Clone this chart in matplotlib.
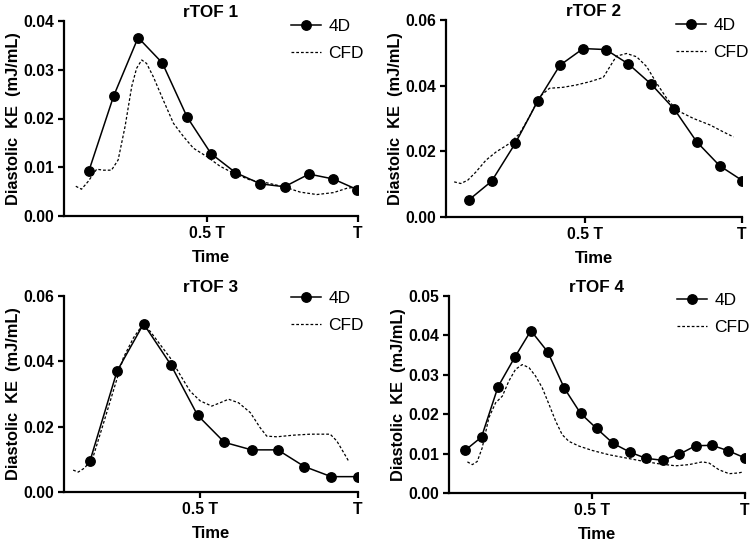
import matplotlib
matplotlib.use("Agg")
import matplotlib.pyplot as plt

plt.rcParams['font.family'] = ['Liberation Sans', 'DejaVu Sans']

# ---------------- data (time as fraction of cycle T) ----------------
titles = ["rTOF 1", "rTOF 2", "rTOF 3", "rTOF 4"]

t4d_1 = [0.110, 0.192, 0.273, 0.353, 0.435, 0.514, 0.595, 0.677, 0.757, 0.838, 0.918, 0.998]
ke4d_1 = [0.0092, 0.0246, 0.0366, 0.0314, 0.0203, 0.0128, 0.0089, 0.0066, 0.0060, 0.0086, 0.0076, 0.0054]
tcfd_1 = [0.067, 0.086, 0.108, 0.136, 0.158, 0.185, 0.207, 0.230, 0.252, 0.268, 0.285, 0.301,
          0.323, 0.356, 0.390, 0.423, 0.456, 0.500, 0.544, 0.588, 0.643, 0.699, 0.754, 0.809,
          0.864, 0.919, 0.964, 0.991]
kecfd_1 = [0.0061, 0.0055, 0.0071, 0.0096, 0.0094, 0.0094, 0.0115, 0.0184, 0.0266, 0.0303, 0.0320, 0.0313,
           0.0286, 0.0238, 0.0190, 0.0163, 0.0139, 0.0122, 0.0102, 0.0088, 0.0074, 0.0068, 0.0060, 0.0049,
           0.0044, 0.0048, 0.0057, 0.0059]

t4d_2 = [0.133, 0.204, 0.279, 0.350, 0.421, 0.495, 0.567, 0.639, 0.712, 0.785, 0.856, 0.929, 1.001]
ke4d_2 = [0.0053, 0.0109, 0.0224, 0.0352, 0.0462, 0.0513, 0.0510, 0.0466, 0.0404, 0.0328, 0.0229, 0.0156, 0.0111]
tcfd_2 = [0.085, 0.106, 0.128, 0.154, 0.186, 0.218, 0.261, 0.293, 0.324, 0.356, 0.388, 0.431,
          0.473, 0.516, 0.559, 0.580, 0.601, 0.633, 0.665, 0.697, 0.729, 0.761, 0.793, 0.846,
          0.899, 0.941, 0.973]
kecfd_2 = [0.0107, 0.0102, 0.0112, 0.0137, 0.0173, 0.0198, 0.0224, 0.0254, 0.0305, 0.0366, 0.0392, 0.0395,
           0.0402, 0.0412, 0.0425, 0.0458, 0.0490, 0.0498, 0.0488, 0.0458, 0.0407, 0.0361, 0.0325, 0.0300,
           0.0280, 0.0259, 0.0244]

t4d_3 = [0.151, 0.237, 0.321, 0.407, 0.492, 0.577, 0.663, 0.746, 0.830, 0.915, 0.999]
ke4d_3 = [0.0094, 0.0370, 0.0515, 0.0390, 0.0235, 0.0152, 0.0129, 0.0129, 0.0078, 0.0047, 0.0047]
tcfd_3 = [0.098, 0.114, 0.135, 0.162, 0.193, 0.225, 0.257, 0.289, 0.315, 0.341, 0.373, 0.405,
          0.436, 0.468, 0.500, 0.537, 0.563, 0.590, 0.622, 0.659, 0.690, 0.711, 0.743, 0.796,
          0.849, 0.912, 0.933, 0.955, 0.970]
kecfd_3 = [0.0067, 0.0061, 0.0074, 0.0110, 0.0207, 0.0309, 0.0411, 0.0472, 0.0508, 0.0493, 0.0452, 0.0411,
           0.0360, 0.0309, 0.0279, 0.0263, 0.0273, 0.0284, 0.0273, 0.0243, 0.0197, 0.0171, 0.0169, 0.0174,
           0.0177, 0.0177, 0.0156, 0.0120, 0.0095]

t4d_4 = [0.087, 0.141, 0.195, 0.249, 0.302, 0.357, 0.411, 0.464, 0.516, 0.570, 0.624, 0.677,
         0.732, 0.785, 0.839, 0.893, 0.946, 1.000]
ke4d_4 = [0.0108, 0.0142, 0.0270, 0.0344, 0.0412, 0.0358, 0.0266, 0.0202, 0.0164, 0.0126, 0.0104, 0.0088,
          0.0083, 0.0098, 0.0120, 0.0121, 0.0107, 0.0089]
tcfd_4 = [0.095, 0.111, 0.127, 0.143, 0.165, 0.187, 0.209, 0.230, 0.252, 0.274, 0.296, 0.317,
          0.339, 0.361, 0.383, 0.404, 0.426, 0.459, 0.502, 0.557, 0.611, 0.665, 0.720, 0.774,
          0.817, 0.861, 0.883, 0.915, 0.948, 0.980, 0.991]
kecfd_4 = [0.0079, 0.0072, 0.0080, 0.0114, 0.0191, 0.0229, 0.0246, 0.0284, 0.0314, 0.0326, 0.0318, 0.0297,
           0.0267, 0.0225, 0.0182, 0.0148, 0.0131, 0.0119, 0.0108, 0.0097, 0.0089, 0.0081, 0.0074, 0.0069,
           0.0072, 0.0079, 0.0076, 0.0059, 0.0049, 0.0051, 0.0053]

ymax = [0.04, 0.06, 0.06, 0.05]
yticks = [[0.00, 0.01, 0.02, 0.03, 0.04],
          [0.00, 0.02, 0.04, 0.06],
          [0.00, 0.02, 0.04, 0.06],
          [0.00, 0.01, 0.02, 0.03, 0.04, 0.05]]
xmin = [0.028, 0.059, 0.069, 0.035]
xtick_pos = [0.5, 1.0]
xtick_labels = ["0.5 T", "T"]

series = [(t4d_1, ke4d_1, tcfd_1, kecfd_1),
          (t4d_2, ke4d_2, tcfd_2, kecfd_2),
          (t4d_3, ke4d_3, tcfd_3, kecfd_3),
          (t4d_4, ke4d_4, tcfd_4, kecfd_4)]

# ---------------- layout (pixels) ----------------
W, H = 752, 543
fig = plt.figure(figsize=(W / 100, H / 100), dpi=100)
boxes = [(64, 21, 358, 216), (446, 20, 742, 217), (64, 296, 358, 492), (449, 296, 745, 493)]
legend_anchor = [(291, 19), (676, 18), (291, 291), (677, 293)]

for i, (l, t, r, b) in enumerate(boxes):
    ax = fig.add_axes([l / W, 1 - b / H, (r - l) / W, (b - t) / H])
    tx, ty, cx, cy = series[i]
    ax.plot(tx, ty, '-', color='black', lw=1.1, marker='o', ms=6.8, label='4D', zorder=3)
    ax.plot(cx, cy, color='black', lw=0.9, ls=(0, (2.2, 1.6)), label='CFD', zorder=2)
    ax.set_xlim(xmin[i], 1.0)
    ax.set_ylim(0, ymax[i])
    ax.set_yticks(yticks[i])
    ax.set_yticklabels([f"{v:.2f}" for v in yticks[i]], fontweight='bold', fontsize=11.3)
    ax.set_xticks(xtick_pos)
    ax.set_xticklabels(xtick_labels, fontweight='bold', fontsize=11.3)
    for s in ['top', 'right']:
        ax.spines[s].set_visible(False)
    for s in ['left', 'bottom']:
        ax.spines[s].set_linewidth(1.6)
    ax.tick_params(axis='both', width=1.6, length=4, direction='out', pad=3)
    ax.set_title(titles[i], fontweight='bold', fontsize=12.3, pad=3)
    ax.set_xlabel("Time", fontweight='bold', fontsize=12, labelpad=7)
    ax.set_ylabel("Diastolic  KE  (mJ/mL)", fontweight='bold', fontsize=11.8, labelpad=2)
    lx, ly = legend_anchor[i]
    ax.legend(loc='upper left', bbox_to_anchor=(lx / W, 1 - ly / H), bbox_transform=fig.transFigure,
              frameon=False, fontsize=12.5,
              handlelength=1.7, handletextpad=0.45, labelspacing=0.65, borderaxespad=0, borderpad=0)

fig.savefig("out.png", dpi=100)
